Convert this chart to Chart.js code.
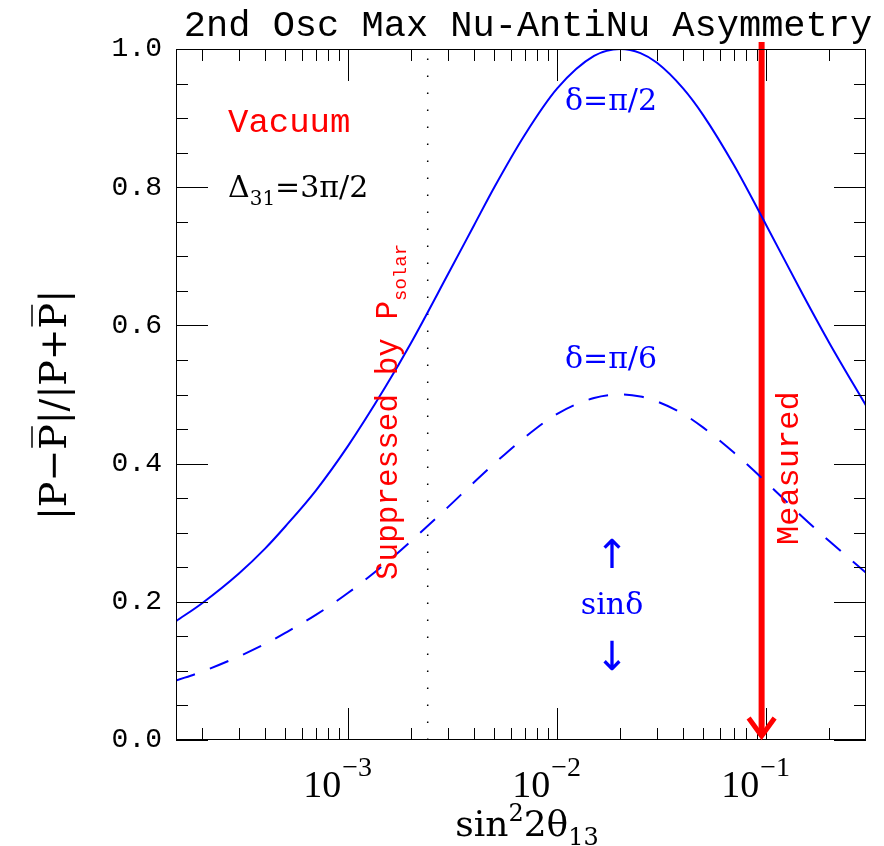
<!DOCTYPE html>
<html>
<head>
  <meta charset="UTF-8">
  <title>2nd Osc Max Nu-AntiNu Asymmetry</title>
  <script src="https://cdn.jsdelivr.net/npm/chart.js"></script>
  <style>
    body { margin: 0; background: #fff; }
    #wrap { width: 884px; height: 846px; }
  </style>
</head>
<body>
  <div id="wrap"><canvas id="chart" width="884" height="846"></canvas></div>

  <script>
    // values
    const xValues = [1.5e-4, 2e-4, 3e-4, 4e-4, 5e-4, 7e-4, 1e-3, 1.5e-3, 2e-3, 3e-3, 4e-3, 5e-3, 7e-3,
                     1e-2, 1.5e-2, 2e-2, 2.5e-2, 3e-2, 4e-2, 5e-2, 7e-2, 0.1, 0.15, 0.2, 0.3];
    const solidValues = [0.172, 0.198, 0.241, 0.277, 0.309, 0.361, 0.426, 0.510, 0.575, 0.674, 0.745, 0.800, 0.876,
                         0.943, 0.990, 1.000, 0.994, 0.980, 0.943, 0.904, 0.832, 0.745, 0.644, 0.575, 0.484];
    const dashedValues = [0.086, 0.099, 0.121, 0.139, 0.155, 0.181, 0.213, 0.255, 0.288, 0.337, 0.373, 0.400, 0.438,
                          0.472, 0.495, 0.500, 0.497, 0.490, 0.472, 0.452, 0.416, 0.373, 0.322, 0.288, 0.242];
    const solarX = 0.0024;
    const measuredX = 0.095;

    const xMin = 1.5e-4, xMax = 0.3;
    const xMajorTicks = [1e-3, 1e-2, 1e-1];
    const xTickExp = ['\u22123', '\u22122', '\u22121'];
    const xMinorTicks = [2e-4, 3e-4, 4e-4, 5e-4, 6e-4, 7e-4, 8e-4, 9e-4,
                         2e-3, 3e-3, 4e-3, 5e-3, 6e-3, 7e-3, 8e-3, 9e-3,
                         2e-2, 3e-2, 4e-2, 5e-2, 6e-2, 7e-2, 8e-2, 9e-2, 0.2];
    const yMajorTicks = [0, 0.2, 0.4, 0.6, 0.8, 1.0];
    const yMinorTicks = [0.05, 0.1, 0.15, 0.25, 0.3, 0.35, 0.45, 0.5, 0.55, 0.65, 0.7, 0.75, 0.85, 0.9, 0.95];

    const BLUE = '#0000ff';
    const RED = '#ff0000';
    const SERIF = '"DejaVu Serif", serif';
    const MONO = '"Liberation Mono", monospace';

    // draw a row of text pieces (for sub/superscripts)
    function drawRuns(c, runs, x, y, align) {
      let total = 0;
      runs.forEach(r => { c.font = r.font; r.w = c.measureText(r.t).width; total += r.w; });
      let cx = align === 'center' ? x - total / 2 : (align === 'right' ? x - total : x);
      c.textAlign = 'left';
      runs.forEach(r => {
        c.font = r.font;
        c.fillText(r.t, cx, y + (r.dy || 0));
        cx += r.w;
      });
    }

    const decor = {
      id: 'decor',
      afterDraw(chart) {
        const c = chart.ctx;
        const a = chart.chartArea;
        const xs = chart.scales.x, ys = chart.scales.y;
        c.save();

        // frame
        c.strokeStyle = '#000';
        c.lineWidth = 1;
        c.strokeRect(a.left + 0.5, a.top + 0.5, a.right - a.left - 1, a.bottom - a.top - 1);

        // inward ticks on all sides
        c.beginPath();
        const xt = (v, len) => {
          const p = Math.round(xs.getPixelForValue(v)) + 0.5;
          c.moveTo(p, a.bottom); c.lineTo(p, a.bottom - len);
          c.moveTo(p, a.top); c.lineTo(p, a.top + len);
        };
        const yt = (v, len) => {
          const p = Math.round(ys.getPixelForValue(v)) + 0.5;
          c.moveTo(a.left, p); c.lineTo(a.left + len, p);
          c.moveTo(a.right, p); c.lineTo(a.right - len, p);
        };
        xMajorTicks.forEach(v => xt(v, 32));
        xMinorTicks.forEach(v => xt(v, 12));
        yMajorTicks.forEach(v => yt(v, 32));
        yMinorTicks.forEach(v => yt(v, 12));
        c.stroke();

        // x tick labels 10^n
        c.fillStyle = '#000';
        c.textBaseline = 'alphabetic';
        xMajorTicks.forEach((v, i) => {
          const p = xs.getPixelForValue(v);
          c.font = '38px "Liberation Serif", serif';
          c.textAlign = 'right';
          c.fillText('10', p - 7, 797);
          c.font = '28px "Liberation Serif", serif';
          c.textAlign = 'left';
          c.fillText(xTickExp[i], p - 6, 776);
        });

        // title
        c.font = '37px ' + MONO;
        c.textAlign = 'center';
        c.fillText('2nd Osc Max Nu-AntiNu Asymmetry', 528, 36);

        // x axis title
        drawRuns(c, [
          { t: 'sin', font: '36px ' + SERIF },
          { t: '2', font: '24px ' + SERIF, dy: -15 },
          { t: '2\u03b8', font: '36px ' + SERIF },
          { t: '13', font: '24px ' + SERIF, dy: 9 }
        ], 527, 836, 'center');

        // y axis title |P-P̄|/|P+P̄|
        c.save();
        c.translate(66, 405);
        c.rotate(-Math.PI / 2);
        c.font = '38px ' + SERIF;
        const parts = ['|P\u2212', 'P', '|/|P+', 'P', '|'];
        let tw = 0;
        const widths = parts.map(s => { const w = c.measureText(s).width; tw += w; return w; });
        let px = -tw / 2;
        c.textAlign = 'left';
        c.lineWidth = 1.5;
        parts.forEach((s, i) => {
          c.fillText(s, px, 0);
          if (i === 1 || i === 3) {
            c.beginPath();
            c.moveTo(px + 2, -34); c.lineTo(px + widths[i] - 2, -34);
            c.stroke();
          }
          px += widths[i];
        });
        c.restore();

        // Vacuum / Delta
        c.fillStyle = RED;
        c.font = '34px ' + MONO;
        c.textAlign = 'left';
        c.fillText('Vacuum', 228, 132);
        c.fillStyle = '#000';
        drawRuns(c, [
          { t: '\u0394', font: '30px ' + SERIF },
          { t: '31', font: '20px ' + SERIF, dy: 8 },
          { t: '=3\u03c0/2', font: '30px ' + SERIF }
        ], 228, 197, 'left');

        // delta labels
        c.fillStyle = BLUE;
        c.font = '30px ' + SERIF;
        c.textAlign = 'center';
        c.fillText('\u03b4=\u03c0/2', 611, 110);
        c.fillText('\u03b4=\u03c0/6', 611, 368);
        c.fillText('sin\u03b4', 612, 614);
        c.font = '40px "DejaVu Sans", sans-serif';
        c.fillText('\u2191', 612, 568);
        c.fillText('\u2193', 612, 670);

        // Suppressed by P_solar (vertical)
        c.fillStyle = RED;
        c.save();
        c.translate(397, 580);
        c.rotate(-Math.PI / 2);
        drawRuns(c, [
          { t: 'Suppressed by P', font: '31px ' + MONO },
          { t: 'solar', font: '19px ' + MONO, dy: 9 }
        ], 0, 0, 'left');
        c.restore();

        // Measured (vertical)
        c.save();
        c.translate(798, 545);
        c.rotate(-Math.PI / 2);
        c.font = '32px ' + MONO;
        c.textAlign = 'left';
        c.fillText('Measured', 0, 0);
        c.restore();

        // arrow head of measured line
        const mx = xs.getPixelForValue(measuredX);
        const my = ys.getPixelForValue(0);
        c.strokeStyle = RED;
        c.lineWidth = 5;
        c.lineJoin = 'miter';
        c.beginPath();
        c.moveTo(mx - 13, my - 22);
        c.lineTo(mx, my - 4);
        c.lineTo(mx + 13, my - 22);
        c.stroke();

        c.restore();
      }
    };

    const ctx = document.getElementById('chart').getContext('2d');
    new Chart(ctx, {
      type: 'line',
      data: {
        datasets: [
          {
            label: '\u03b4=\u03c0/2',
            data: xValues.map((x, i) => ({ x: x, y: solidValues[i] })),
            borderColor: BLUE, borderWidth: 2, pointRadius: 0,
            cubicInterpolationMode: 'monotone'
          },
          {
            label: '\u03b4=\u03c0/6',
            data: xValues.map((x, i) => ({ x: x, y: dashedValues[i] })),
            borderColor: BLUE, borderWidth: 2, pointRadius: 0, borderDash: [20, 16],
            cubicInterpolationMode: 'monotone'
          },
          {
            label: 'solar',
            data: [{ x: solarX, y: 0 }, { x: solarX, y: 1 }],
            borderColor: '#000', borderWidth: 1.5, pointRadius: 0, borderDash: [1.5, 15.5]
          },
          {
            label: 'Measured',
            data: [{ x: measuredX, y: 1.01 }, { x: measuredX, y: 0.006 }],
            borderColor: RED, borderWidth: 6, pointRadius: 0, clip: false
          }
        ]
      },
      options: {
        responsive: false,
        animation: false,
        devicePixelRatio: 1,
        layout: { padding: { top: 49, right: 18, left: 0, bottom: 0 } },
        plugins: { legend: { display: false }, tooltip: { enabled: false } },
        scales: {
          x: {
            type: 'logarithmic', min: xMin, max: xMax,
            grid: { display: false, drawTicks: false },
            border: { display: false },
            ticks: { display: false },
            afterFit: s => { s.height = 106; }
          },
          y: {
            min: 0, max: 1,
            grid: { display: false, drawTicks: false },
            border: { display: false },
            ticks: {
              stepSize: 0.2, padding: 14, color: '#000',
              font: { family: 'Liberation Mono', size: 28 },
              callback: v => v.toFixed(1)
            },
            afterFit: s => { s.width = 176; }
          }
        }
      },
      plugins: [decor]
    });
  </script>
</body>
</html>
